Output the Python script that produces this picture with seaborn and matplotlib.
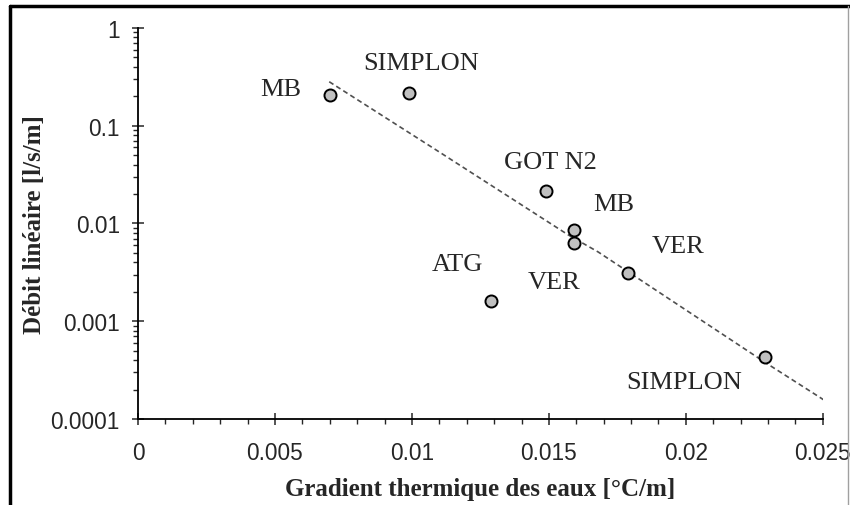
import matplotlib
matplotlib.use("Agg")
import matplotlib.pyplot as plt
import matplotlib.ticker as mticker
from matplotlib.lines import Line2D
import seaborn as sns

# gauged points: thermal gradient [°C/m] vs linear discharge [l/s/m]
sites = ["MB", "SIMPLON", "GOT N2", "MB", "VER", "ATG", "VER", "SIMPLON"]
gradient = [0.0070, 0.0099, 0.0149, 0.0159, 0.0159, 0.0129, 0.0179, 0.0229]
debit = [0.206, 0.216, 0.0217, 0.0086, 0.0063, 0.00161, 0.0031, 0.00043]

# trend line
trend_x = [0.00698, 0.01098, 0.01571, 0.0168, 0.02287, 0.02516]
trend_y = [0.282, 0.0543, 0.00763, 0.00511, 0.000383, 0.000149]

# label anchors (data coords) for the site names
label_pos = [(0.0052, 0.238), (0.01033, 0.44), (0.01505, 0.0427), (0.01735, 0.0158),
             (0.01971, 0.0059), (0.01167, 0.00386), (0.0152, 0.00252), (0.01993, 0.00024)]

sns.set_style("ticks")
plt.rcParams['font.family'] = ['Liberation Sans', 'DejaVu Sans']

fig, ax = plt.subplots(figsize=(8.5, 5.06), dpi=100)
fig.subplots_adjust(left=0.1624, right=0.968, bottom=0.17, top=0.9427)

sns.lineplot(x=trend_x, y=trend_y, ax=ax, color='#505050', lw=1.2,
             linestyle=(0, (3, 2)), sort=False)
sns.scatterplot(x=gradient, y=debit, ax=ax, s=75, color='#c0c0c0',
                edgecolor='black', linewidth=1.4, zorder=3)

ax.set_yscale('log')
ax.set_ylim(1e-4, 1)
ax.set_xlim(0, 0.025)
ax.xaxis.set_major_locator(mticker.MultipleLocator(0.005))
ax.xaxis.set_minor_locator(mticker.MultipleLocator(0.001))
ax.yaxis.set_major_locator(mticker.LogLocator(base=10, numticks=10))
ax.yaxis.set_minor_locator(mticker.LogLocator(base=10, subs=range(2, 10), numticks=10))
ax.yaxis.set_minor_formatter(mticker.NullFormatter())
fmt = mticker.FuncFormatter(lambda v, p: f'{v:g}')
ax.xaxis.set_major_formatter(fmt)
ax.yaxis.set_major_formatter(fmt)

for s in ['top', 'right']:
    ax.spines[s].set_visible(False)
for s in ['left', 'bottom']:
    ax.spines[s].set_linewidth(1.3)
    ax.spines[s].set_color('black')
ax.tick_params(which='major', direction='inout', length=8, width=1.1, labelsize=16.3, pad=9)
ax.tick_params(which='minor', direction='out', length=3.5, width=1.0)
ax.tick_params(axis='x', which='major', pad=12)

ax.set_xlabel('Gradient thermique des eaux [°C/m]', fontsize=18, fontweight='bold',
              family='Liberation Serif')
ax.set_ylabel('Débit linéaire [l/s/m]', fontsize=18, fontweight='bold',
              family='Liberation Serif')
ax.xaxis.set_label_coords(0.5, -0.148)
ax.yaxis.set_label_coords(-0.134, 0.5)

for name, (lx, ly) in zip(sites, label_pos):
    ax.text(lx, ly, name, ha='center', va='center', fontsize=19,
            family='Liberation Serif')

# outer frame of the original figure
fig.add_artist(Line2D([0.0112, 0.0112], [0, 0.986], transform=fig.transFigure, color='black', lw=2.5))
fig.add_artist(Line2D([0.0112, 1], [0.986, 0.986], transform=fig.transFigure, color='black', lw=2.5))
fig.add_artist(Line2D([0.998, 0.998], [0, 0.986], transform=fig.transFigure, color='#a0a0a0', lw=1))

plt.savefig('out.png', format='png', dpi=100)
